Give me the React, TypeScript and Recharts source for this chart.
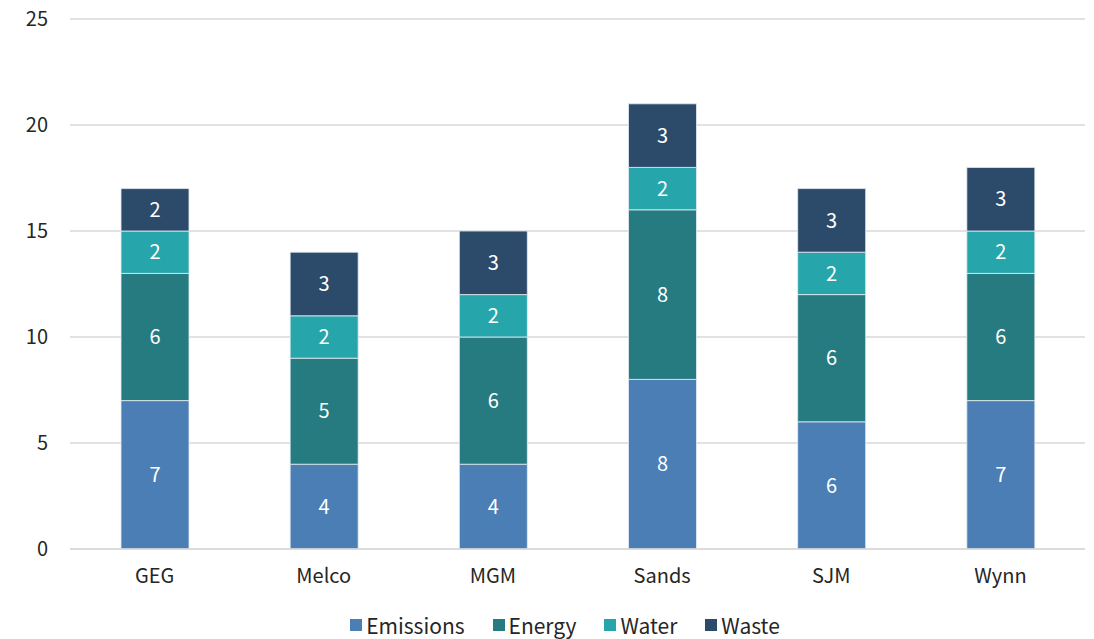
import React from 'react';
import { BarChart, Bar, XAxis, YAxis, CartesianGrid, LabelList } from 'recharts';

const companies = ['GEG', 'Melco', 'MGM', 'Sands', 'SJM', 'Wynn'];
const emissions = [7, 4, 4, 8, 6, 7];
const energy = [6, 5, 6, 8, 6, 6];
const water = [2, 2, 2, 2, 2, 2];
const waste = [2, 3, 3, 3, 3, 3];
const yTicks = [0, 5, 10, 15, 20, 25];

const series = [
  { key: 'Emissions', color: '#4A7EB5' },
  { key: 'Energy', color: '#267B80' },
  { key: 'Water', color: '#26A6AB' },
  { key: 'Waste', color: '#2C4B6B' },
];

const data = companies.map((name, i) => ({
  name,
  Emissions: emissions[i],
  Energy: energy[i],
  Water: water[i],
  Waste: waste[i],
}));

const font = '"Noto Sans CJK SC", "Noto Sans", sans-serif';

export default function App() {
  return (
    <div style={{ position: 'absolute', left: 0, top: 0, width: 1094, height: 639, background: '#fff', fontFamily: font }}>
      <BarChart
        width={1094}
        height={639}
        data={data}
        margin={{ top: 19, right: 9, bottom: 60, left: 20 }}
      >
        <CartesianGrid vertical={false} stroke="#d9d9d9" strokeWidth={1.5} />
        <XAxis
          dataKey="name"
          height={30}
          axisLine={{ stroke: '#d9d9d9', strokeWidth: 1.5 }}
          tickLine={false}
          tick={{ fill: '#262626', fontSize: 20, fontFamily: font }}
          tickMargin={14}
        />
        <YAxis
          width={50}
          domain={[0, 25]}
          ticks={yTicks}
          axisLine={false}
          tickLine={false}
          tick={{ fill: '#262626', fontSize: 20, fontFamily: font }}
          tickMargin={16}
        />
        {series.map((s) => (
          <Bar
            key={s.key}
            dataKey={s.key}
            stackId="a"
            fill={s.color}
            stroke="#e6ecf2"
            strokeWidth={0.8}
            barSize={68}
            isAnimationActive={false}
          >
            <LabelList dataKey={s.key} position="center" fill="#ffffff" fontSize={20} fontFamily={font} />
          </Bar>
        ))}
      </BarChart>
      <div
        style={{
          position: 'absolute',
          top: 610,
          left: 0,
          width: 1130,
          display: 'flex',
          justifyContent: 'center',
          gap: 28,
          fontSize: 21,
          color: '#262626',
          lineHeight: '30px',
        }}
      >
        {series.map((s) => (
          <div key={s.key} style={{ display: 'flex', alignItems: 'center', gap: 4 }}>
            <span style={{ width: 12, height: 12, background: s.color, display: 'inline-block' }} />
            <span>{s.key}</span>
          </div>
        ))}
      </div>
    </div>
  );
}
